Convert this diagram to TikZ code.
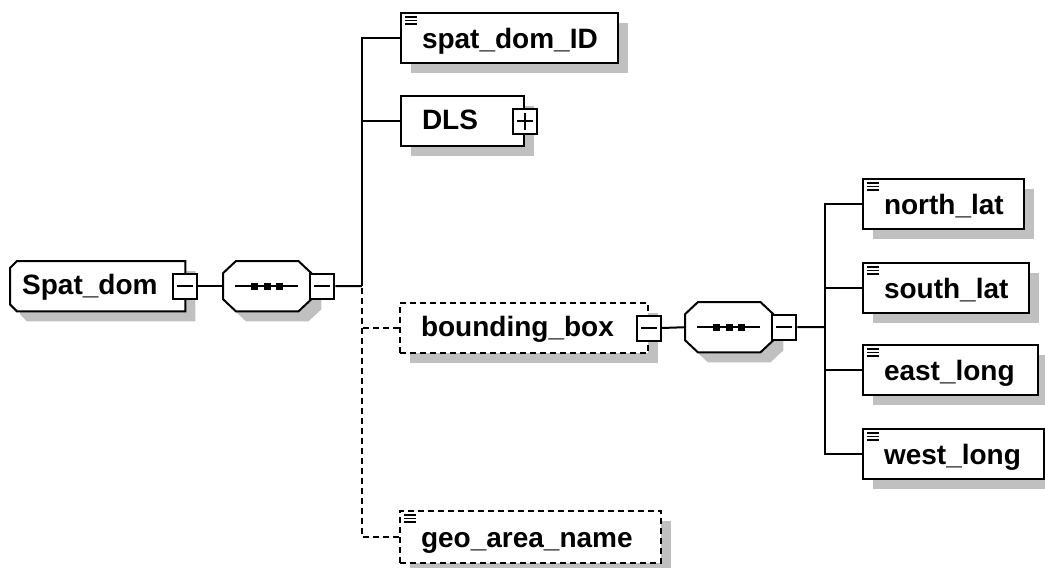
\documentclass[tikz,border=0pt]{standalone}
\usepackage{fontspec}
\setmainfont{Liberation Sans}
\usetikzlibrary{shadows,backgrounds,calc}
\definecolor{shadowc}{HTML}{C0C0C0}
\tikzset{
  lw/.style={line width=2pt},
  shade10/.style={drop shadow={shadow xshift=10pt,shadow yshift=-10pt,fill=shadowc,opacity=1}},
  txt/.style={font=\fontsize{28}{30}\selectfont\bfseries, align=left, inner ysep=0pt,
    minimum height=50pt, anchor=north west, text height=21pt, text depth=5pt, inner xsep=21pt},
  elem/.style={txt, lw, draw, fill=white, shade10},
  docicon/.style={text height=23pt, text depth=3pt, path picture={
     \foreach \k in {4,7.5,11}{\draw[solid,line width=1.4pt] ([xshift=4pt,yshift=-\k pt]path picture bounding box.north west) -- ++(12pt,0);}}},
  opt/.style={dash pattern=on 6pt off 4pt},
  holder/.style={anchor=north west, inner sep=0pt, minimum height=50pt},
  outline/.style={lw, draw, fill=white, shade10},
  toggle/.style={lw, draw, fill=white, inner sep=0pt, minimum width=24pt, minimum height=25pt},
  minus/.style={toggle, path picture={\draw[line width=1.5pt] ([xshift=4pt]path picture bounding box.west) -- ([xshift=-4pt]path picture bounding box.east);}},
  plus/.style={toggle, path picture={\draw[line width=1.5pt] ([xshift=4pt]path picture bounding box.west) -- ([xshift=-4pt]path picture bounding box.east);
     \draw[line width=1.5pt] ([yshift=4pt]path picture bounding box.south) -- ([yshift=-4pt]path picture bounding box.north);}},
  conn/.style={lw},
}
\begin{document}
\begin{tikzpicture}[x=1pt,y=-1pt]
\useasboundingbox (0,0) rectangle (1045,568);

% root element
\node[txt, inner xsep=12pt, text width=151pt] (spatdom) at (10,261) {Spat\_dom};
\begin{scope}[on background layer]
\draw[outline] ([xshift=7pt]spatdom.north west) -- (spatdom.north east) -- (spatdom.south east)
  -- ([xshift=7pt]spatdom.south west) -- ([yshift=7pt]spatdom.south west)
  -- ([yshift=-7pt]spatdom.north west) -- cycle;
\end{scope}
\node[minus] (m0) at (spatdom.east) {};

% sequence 1
\node[holder, minimum width=88pt] (seq1) at (223,261) {};
\begin{scope}[on background layer]
\draw[outline] ([yshift=13pt]seq1.west) -- ([xshift=13pt]seq1.north west) -- ([xshift=-13pt]seq1.north east)
  -- ([yshift=13pt]seq1.east) -- ([yshift=-13pt]seq1.east) -- ([xshift=-13pt]seq1.south east)
  -- ([xshift=13pt]seq1.south west) -- ([yshift=-13pt]seq1.west) -- cycle;
\end{scope}
\draw[lw] ([xshift=12pt]seq1.west) -- ([xshift=-13pt]seq1.east);
\foreach \dx in {-12.5,0,12.5}
  \fill ([xshift=\dx pt]seq1.center) ++(-3.5pt,-3.5pt) rectangle ++(7pt,7pt);
\node[minus] (m1) at ([xshift=11pt]seq1.east) {};
\coordinate (t1) at (362,286);

% children of sequence 1
\node[elem, docicon, text width=175pt] (sdid) at (400,12) {spat\_dom\_ID};
\node[elem, text width=81pt] (dls) at (400,95) {DLS};
\node[plus] (p1) at (dls.east) {};
\node[elem, opt, text width=206pt] (bbox) at (399,302) {bounding\_box};
\node[minus] (m2) at (bbox.east) {};
\node[elem, docicon, opt, text width=219pt, minimum height=52pt] (geo) at (399,510) {geo\_area\_name};

% sequence 2
\node[holder, minimum width=88pt] (seq2) at (685,302) {};
\begin{scope}[on background layer]
\draw[outline] ([yshift=13pt]seq2.west) -- ([xshift=13pt]seq2.north west) -- ([xshift=-13pt]seq2.north east)
  -- ([yshift=13pt]seq2.east) -- ([yshift=-13pt]seq2.east) -- ([xshift=-13pt]seq2.south east)
  -- ([xshift=13pt]seq2.south west) -- ([yshift=-13pt]seq2.west) -- cycle;
\end{scope}
\draw[lw] ([xshift=12pt]seq2.west) -- ([xshift=-13pt]seq2.east);
\foreach \dx in {-12.5,0,12.5}
  \fill ([xshift=\dx pt]seq2.center) ++(-3.5pt,-3.5pt) rectangle ++(7pt,7pt);
\node[minus] (m3) at ([xshift=11pt]seq2.east) {};
\coordinate (t2) at (825,327);

% children of sequence 2
\node[elem, docicon, text width=119pt] (nlat) at (862,178) {north\_lat};
\node[elem, docicon, text width=124pt] (slat) at (862,262) {south\_lat};
\node[elem, docicon, text width=133pt] (elong) at (862,344) {east\_long};
\node[elem, docicon, text width=139pt] (wlong) at (862,428) {west\_long};

% connectors
\draw[conn] (m0.east) -- (seq1.west);
\draw[conn] (m1.east) -- (t1);
\draw[conn] (sdid.west) -| (t1);
\draw[conn] (dls.west) -| (t1);
\draw[conn, opt] (bbox.west) -- (bbox.west -| t1);
\draw[conn, opt] (geo.west) -| (t1);
\draw[conn] (m2.east) -- (seq2.west);
\draw[conn] (m3.east) -- (t2);
\draw[conn] (nlat.west) -| (t2);
\draw[conn] (slat.west) -| (t2);
\draw[conn] (elong.west) -| (t2);
\draw[conn] (wlong.west) -| (t2);
\end{tikzpicture}
\end{document}
